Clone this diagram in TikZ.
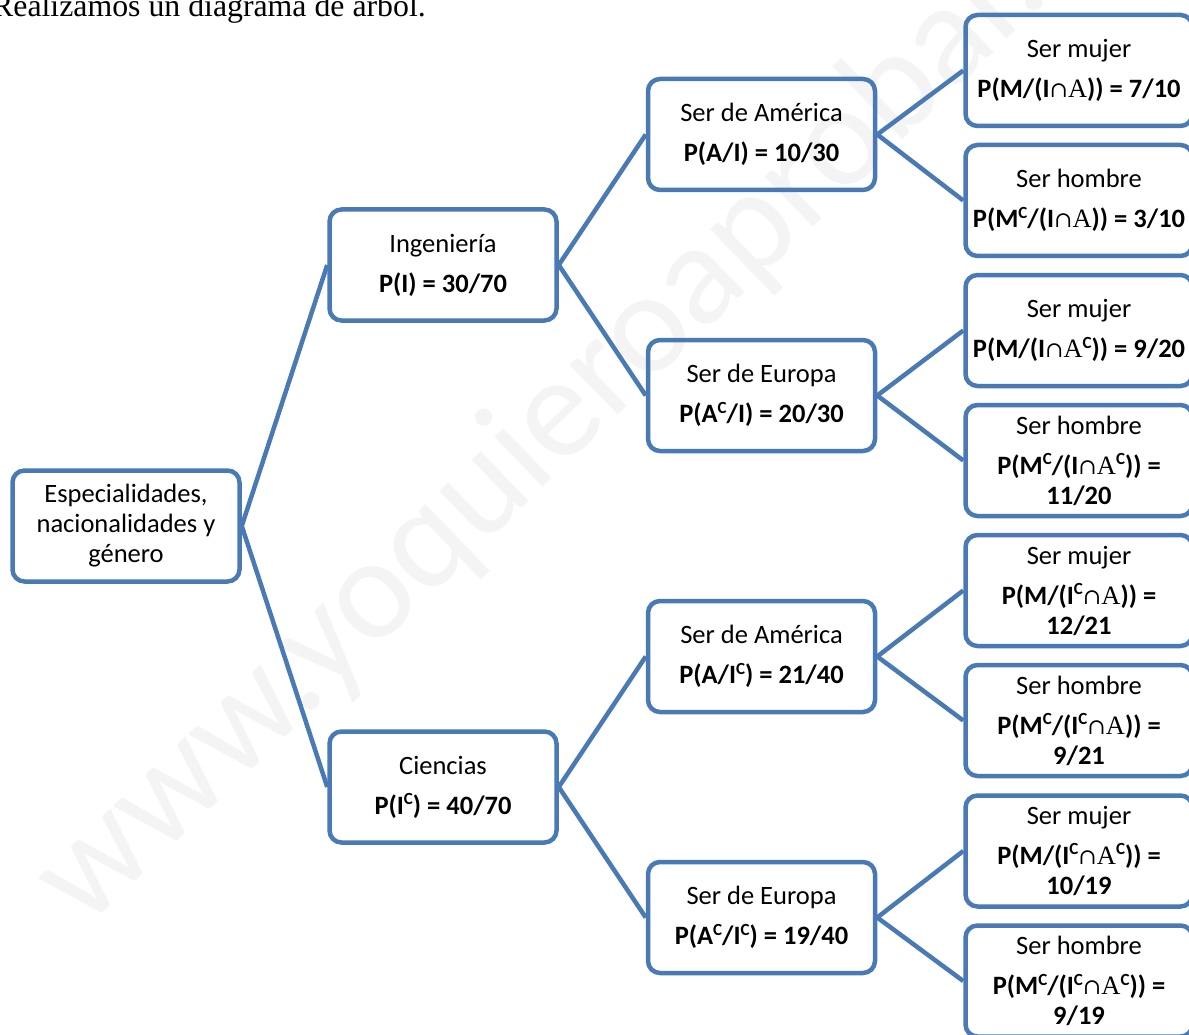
\documentclass[tikz,border=0pt]{standalone}
\usepackage{fontspec}
\setmainfont{Carlito}
\newfontfamily\titlefont{Liberation Serif}
\newfontfamily\capfont{DejaVu Serif}
\newfontfamily\Afont{Liberation Serif}
\definecolor{boxblue}{RGB}{74,122,182}
\newcommand\supC{\raisebox{0.36em}{\fontsize{17}{17}\selectfont C}}
\newcommand\cp{{\capfont\mdseries\fontsize{22}{22}\selectfont ∩}}
\newcommand\Aa{{\Afont\mdseries A}}
\tikzset{
  probbox/.style={draw=boxblue, line width=4.5pt, rounded corners=12pt,
    minimum width=227pt, minimum height=111pt, inner sep=0pt, align=center,
    font=\fontsize{26.5}{30}\selectfont},
  conn/.style={draw=boxblue, line width=4.5pt},
}
\begin{document}
\begin{tikzpicture}[x=1pt,y=-1pt]
\useasboundingbox (0,0) rectangle (1189,1035);
\clip (0,0) rectangle (1189,1035);
% watermark
\node[rotate=44, anchor=base west, text=black!4.5, inner sep=0pt,
  font=\fontsize{145}{145}\selectfont] (wm) at (85,930) {www.yoquieroaprobar.es};
% heading (cut at the top)
\node[anchor=base west, inner sep=0pt, font=\titlefont\fontsize{31.8}{34}\selectfont]
  (title) at (-8,17) {Realizamos un diagrama de árbol.};
% boxes
\node[probbox] (root) at (126,526) {Especialidades,\\ nacionalidades y\\ género};
\node[probbox] (ing) at (443,265) {Ingeniería\\[10pt] \textbf{P(I) = 30/70}};
\node[probbox] (cie) at (443,787) {Ciencias\\[10pt] \textbf{P(I\supC) = 40/70}};
\node[probbox] (am1) at (761.5,134.5) {Ser de América\\[10pt] \textbf{P(A/I) = 10/30}};
\node[probbox] (eu1) at (761.5,395.5) {Ser de Europa\\[10pt] \textbf{P(A\supC/I) = 20/30}};
\node[probbox] (am2) at (761.5,656.5) {Ser de América\\[10pt] \textbf{P(A/I\supC) = 21/40}};
\node[probbox] (eu2) at (761.5,917.5) {Ser de Europa\\[10pt] \textbf{P(A\supC/I\supC) = 19/40}};
\node[probbox] (m1) at (1079,70.5) {Ser mujer\\[10pt] \textbf{P(M/(I\cp\Aa)) = 7/10}};
\node[probbox] (h1) at (1079,200.5) {Ser hombre\\[10pt] \textbf{P(M\supC/(I\cp\Aa)) = 3/10}};
\node[probbox] (m2) at (1079,330.5) {Ser mujer\\[10pt] \textbf{P(M/(I\cp\Aa\supC)) = 9/20}};
\node[probbox] (h2) at (1079,460.5) {Ser hombre\\[10pt] \textbf{P(M\supC/(I\cp\Aa\supC)) =}\\ \textbf{11/20}};
\node[probbox] (m3) at (1079,590.5) {Ser mujer\\[10pt] \textbf{P(M/(I\supC\cp\Aa)) =}\\ \textbf{12/21}};
\node[probbox] (h3) at (1079,720.5) {Ser hombre\\[10pt] \textbf{P(M\supC/(I\supC\cp\Aa)) =}\\ \textbf{9/21}};
\node[probbox] (m4) at (1079,851) {Ser mujer\\[10pt] \textbf{P(M/(I\supC\cp\Aa\supC)) =}\\ \textbf{10/19}};
\node[probbox] (h4) at (1079,981) {Ser hombre\\[10pt] \textbf{P(M\supC/(I\supC\cp\Aa\supC)) =}\\ \textbf{9/19}};
% connectors
\draw[conn] (root.east) -- (ing.west);
\draw[conn] (root.east) -- (cie.west);
\draw[conn] (ing.east) -- (am1.west);
\draw[conn] (ing.east) -- (eu1.west);
\draw[conn] (cie.east) -- (am2.west);
\draw[conn] (cie.east) -- (eu2.west);
\draw[conn] (am1.east) -- (m1.west);
\draw[conn] (am1.east) -- (h1.west);
\draw[conn] (eu1.east) -- (m2.west);
\draw[conn] (eu1.east) -- (h2.west);
\draw[conn] (am2.east) -- (m3.west);
\draw[conn] (am2.east) -- (h3.west);
\draw[conn] (eu2.east) -- (m4.west);
\draw[conn] (eu2.east) -- (h4.west);
\end{tikzpicture}
\end{document}
